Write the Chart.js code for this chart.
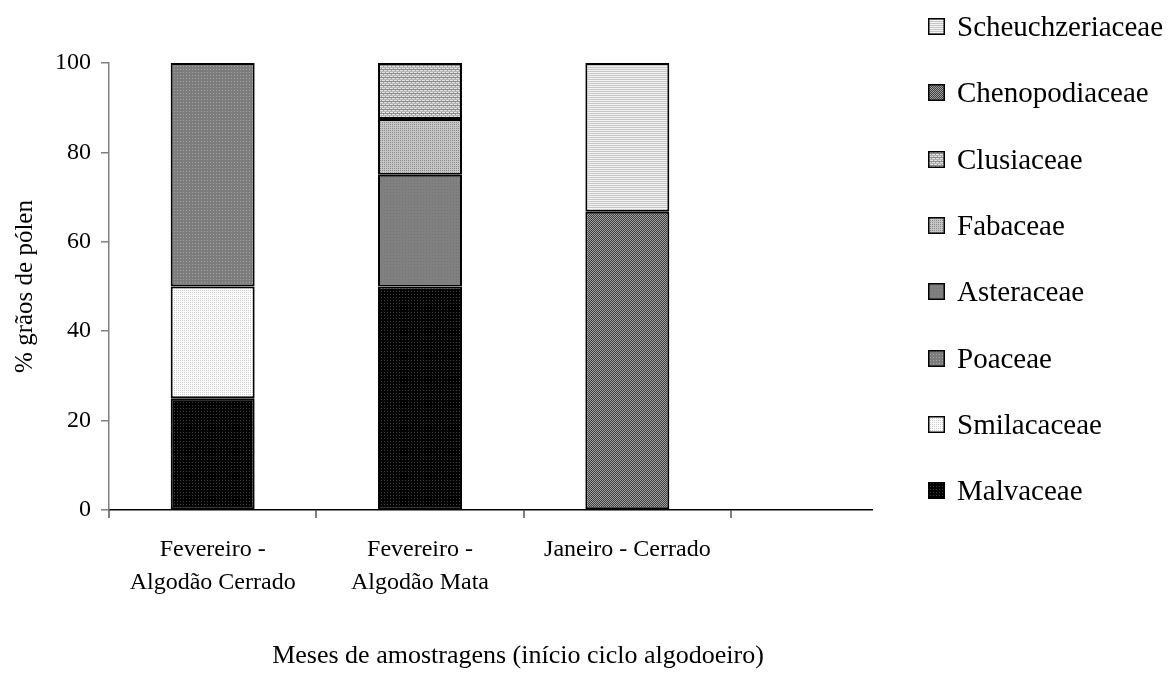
<!DOCTYPE html>
<html>
<head>
<meta charset="utf-8">
<script src="https://cdn.jsdelivr.net/npm/chart.js@4.4.1/dist/chart.umd.min.js"></script>
<style>
  body { margin: 0; background: #fff; }
  #wrap { width: 1174px; height: 689px; }
</style>
</head>
<body>
<div id="wrap"><canvas id="chart" width="1174" height="689"></canvas></div>
<script>
// categories on the x axis
var categories = [
  ['Fevereiro -', 'Algodão Cerrado'],
  ['Fevereiro -', 'Algodão Mata'],
  ['Janeiro - Cerrado']
];

// % of pollen grains per family (bottom to top of the stack)
var malvaceae        = [25, 50, null];
var smilacaceae      = [25, null, null];
var poaceae          = [50, null, null];
var asteraceae       = [null, 25, null];
var fabaceae         = [null, 12.5, null];
var clusiaceae       = [null, 12.5, null];
var chenopodiaceae   = [null, null, 66.7];
var scheuchzeriaceae = [null, null, 33.3];

var yTicks = [0, 20, 40, 60, 80, 100];

var serif = "'Liberation Serif', 'Times New Roman', serif";

// small canvas tiles used as fills (like the excel patterns)
function tile(w, h, draw) {
  var c = document.createElement('canvas');
  c.width = w; c.height = h;
  var g = c.getContext('2d');
  draw(g);
  return g.createPattern(c, 'repeat');
}
function dots(base, dot, step) {
  return tile(step, step, function(g) {
    g.fillStyle = base; g.fillRect(0, 0, step, step);
    g.fillStyle = dot; g.fillRect(0, 0, 1, 1);
  });
}
function stripes(a, b) {
  return tile(2, 2, function(g) {
    g.fillStyle = a; g.fillRect(0, 0, 2, 1);
    g.fillStyle = b; g.fillRect(0, 1, 2, 1);
  });
}
function checker(a, b) {
  return tile(2, 2, function(g) {
    g.fillStyle = a; g.fillRect(0, 0, 2, 2);
    g.fillStyle = b; g.fillRect(0, 0, 1, 1); g.fillRect(1, 1, 1, 1);
  });
}
function wavy() {
  return tile(4, 4, function(g) {
    g.fillStyle = '#e2e2e2'; g.fillRect(0, 0, 4, 4);
    g.fillStyle = '#8e8e8e'; g.fillRect(0, 1, 4, 1);
    g.fillStyle = '#b4b4b4'; g.fillRect(0, 3, 4, 1);
    g.fillStyle = '#9c9c9c'; g.fillRect(1, 0, 1, 1); g.fillRect(3, 2, 1, 1);
  });
}

function ds(label, data, fill) {
  return {
    label: label,
    data: data,
    backgroundColor: fill,
    borderColor: '#000',
    borderWidth: 2,
    borderSkipped: false,
    barPercentage: 0.405,
    categoryPercentage: 1
  };
}

// legend drawn at the right, top item = last dataset
var legendRight = {
  id: 'legendRight',
  afterDraw: function(chart) {
    var ctx = chart.ctx;
    var sets = chart.data.datasets.slice().reverse();
    var x = 928, top = 18, step = 66.3, box = 17;
    ctx.save();
    ctx.font = '29px ' + serif;
    ctx.textBaseline = 'alphabetic';
    sets.forEach(function(s, i) {
      var y = Math.round(top + i * step);
      ctx.fillStyle = s.backgroundColor;
      ctx.fillRect(x, y, box, box);
      ctx.strokeStyle = '#000';
      ctx.lineWidth = 1.5;
      ctx.strokeRect(x + 0.75, y + 0.75, box - 1.5, box - 1.5);
      ctx.fillStyle = '#000';
      ctx.fillText(s.label, x + 29, y + 18);
    });
    ctx.restore();
  }
};

Chart.defaults.font.family = serif;
Chart.defaults.color = '#000';

new Chart(document.getElementById('chart'), {
  type: 'bar',
  data: {
    labels: categories.map(function(c, i) { return i; }),
    datasets: [
      ds('Malvaceae', malvaceae, dots('#000', '#404040', 3)),
      ds('Smilacaceae', smilacaceae, dots('#fff', '#cfcfcf', 2)),
      ds('Poaceae', poaceae, dots('#7c7c7c', '#a4a4a4', 3)),
      ds('Asteraceae', asteraceae, dots('#808080', '#747474', 3)),
      ds('Fabaceae', fabaceae, dots('#c6c6c6', '#8a8a8a', 2)),
      ds('Clusiaceae', clusiaceae, wavy()),
      ds('Chenopodiaceae', chenopodiaceae, checker('#3e3e3e', '#a0a0a0')),
      ds('Scheuchzeriaceae', scheuchzeriaceae, stripes('#f4f4f4', '#c6c6c6'))
    ]
  },
  options: {
    responsive: false,
    animation: false,
    layout: { padding: { left: 0, top: 63, right: 138, bottom: 17 } },
    plugins: {
      legend: { display: false },
      tooltip: { enabled: false },
      title: {
        display: true,
        position: 'bottom',
        text: 'Meses de amostragens (início ciclo algodoeiro)',
        font: { size: 26, weight: 'normal' },
        color: '#000',
        padding: { top: 26, bottom: 0 }
      }
    },
    scales: {
      x: {
        type: 'linear',
        min: -0.5,
        max: 3.18,
        stacked: true,
        offset: false,
        afterBuildTicks: function(s) {
          s.ticks = categories.concat([null]).map(function(c, i) { return { value: i - 0.5 }; });
        },
        ticks: { display: false },
        grid: { offset: false, drawOnChartArea: false, tickLength: 8, color: '#808080', lineWidth: 2 },
        border: { color: '#000', width: 1.5 }
      },
      x2: {
        type: 'linear',
        position: 'bottom',
        weight: 1,
        min: -0.5,
        max: 3.18,
        offset: false,
        afterBuildTicks: function(s) {
          s.ticks = categories.map(function(c, i) { return { value: i }; });
        },
        ticks: {
          autoSkip: false,
          maxRotation: 0,
          padding: 16,
          font: { size: 24, lineHeight: 1.35 },
          callback: function(v, i) { return categories[i]; }
        },
        grid: { display: false, offset: false, drawTicks: false },
        border: { display: false }
      },
      y: {
        stacked: true,
        min: 0,
        max: 100,
        afterBuildTicks: function(s) {
          s.ticks = yTicks.map(function(v) { return { value: v }; });
        },
        afterFit: function(s) { s.width = 109; },
        ticks: { padding: 10, font: { size: 24 } },
        grid: { drawOnChartArea: false, tickLength: 8, color: '#808080', lineWidth: 1.5 },
        border: { color: '#808080', width: 1.5 },
        title: {
          display: true,
          text: '% grãos de pólen',
          font: { size: 25 },
          padding: { top: 10, bottom: 0 }
        }
      },
      y2: {
        type: 'linear',
        position: 'right',
        afterFit: function(s) { s.width = 164; },
        ticks: { display: false },
        grid: { display: false },
        border: { display: false }
      }
    }
  },
  plugins: [legendRight]
});
</script>
</body>
</html>
